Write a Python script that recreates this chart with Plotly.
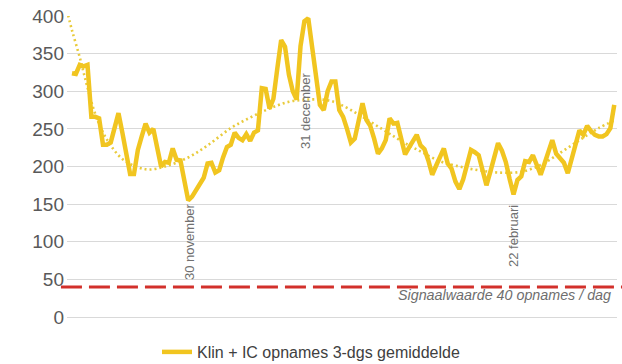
import plotly.graph_objects as go
import pandas as pd

# ---------------- data ----------------
START = "2020-10-31"
VALUES = [
    324, 323, 335, 333, 335, 266, 266, 264, 229, 229,
    232, 252, 271, 245, 217, 190, 190, 222, 240, 257,
    245, 250, 225, 200, 206, 205, 224, 209, 208, 180,
    155, 160, 168, 177, 185, 204, 205, 192, 195, 212,
    226, 229, 245, 238, 235, 243, 234, 245, 248, 304,
    303, 277, 290, 330, 368, 359, 322, 300, 289, 360,
    393, 397, 360, 319, 282, 275, 300, 313, 313, 275,
    266, 250, 232, 237, 262, 284, 262, 254, 237, 217,
    224, 235, 264, 257, 258, 237, 216, 225, 234, 242,
    228, 223, 208, 189, 201, 214, 224, 204, 197, 180,
    170, 183, 200, 222, 219, 215, 195, 175, 193, 215,
    231, 221, 206, 183, 163, 182, 187, 207, 206, 215,
    200, 189, 204, 222, 235, 217, 212, 205, 191, 210,
    232, 248, 242, 254, 247, 242, 240, 240, 243, 251,
    282,
]
DATES = pd.date_range(START, periods=len(VALUES), freq="D")

# dotted trend line (day offsets from START)
TREND_DAY = [-1, 0, 2, 4, 6, 9, 13, 17, 20, 24, 30, 35, 41, 46, 51, 56, 61,
             66, 69, 74, 80, 85, 90, 95, 100, 105, 110, 116, 121, 126, 131, 136, 140]
TREND_VALUES = [401, 381, 345, 305, 270, 236, 210, 199, 196, 200, 212, 228, 251,
                265, 277, 286, 289, 288, 283, 269, 250, 234, 220, 207, 200, 195,
                192, 193, 202, 218, 235, 251, 261]
TREND_DATES = pd.to_datetime(START) + pd.to_timedelta(TREND_DAY, unit="D")

THRESHOLD = 40
THRESHOLD_TEXT = "Signaalwaarde 40 opnames / dag"
SERIES_NAME = "Klin + IC opnames 3-dgs gemiddelde"

LABEL_TEXTS = ["30 november", "31 december", "22 februari"]
LABEL_DATES = ["2020-11-30", "2020-12-31", "2021-02-22"]
LABEL_Y = [100, 274, 107]

Y_TICKS = [0, 50, 100, 150, 200, 250, 300, 350, 400]

# ---------------- styles ----------------
FONT = "Liberation Sans, Arial, sans-serif"
YELLOW = "#F1C520"
TREND_YELLOW = "#E9CB3C"
RED = "#D2302B"
GRID = "#D9D9D9"
TEXT = "#595959"

fig = go.Figure()

fig.add_trace(go.Scatter(
    x=TREND_DATES, y=TREND_VALUES, mode="lines",
    line=dict(color=TREND_YELLOW, width=2.6, dash="2px,3px", shape="spline", smoothing=1.0),
    showlegend=False, hoverinfo="skip",
))
fig.add_trace(go.Scatter(
    x=DATES, y=VALUES, mode="lines", name=SERIES_NAME,
    line=dict(color=YELLOW, width=4.5),
))

# threshold line
fig.add_shape(type="line", xref="paper", yref="y",
              x0=-0.011, x1=1.02, y0=THRESHOLD, y1=THRESHOLD,
              line=dict(color=RED, width=3, dash="21px,7px"), layer="above")

fig.add_annotation(xref="paper", yref="y", x=0.993, y=THRESHOLD - 11,
                   text="<i>" + THRESHOLD_TEXT + "</i>", showarrow=False,
                   xanchor="right", yanchor="middle",
                   font=dict(family=FONT, size=14.3, color="#6E6E6E"))

shifts = [2, -2, 0]
for t, d, yv, s in zip(LABEL_TEXTS, LABEL_DATES, LABEL_Y, shifts):
    fig.add_annotation(x=d, y=yv, text=t, textangle=-90, showarrow=False,
                       xanchor="center", yanchor="middle", xshift=s,
                       font=dict(family=FONT, size=13, color="#707070"))

fig.update_layout(
    width=622, height=364,
    margin=dict(l=67, r=5, t=16, b=47),
    paper_bgcolor="white", plot_bgcolor="white",
    font=dict(family=FONT, color=TEXT),
    showlegend=True,
    legend=dict(orientation="h", xref="container", yref="container",
                x=0.5, xanchor="center", y=0.033, yanchor="middle",
                font=dict(family=FONT, size=16, color="#404040"),
                bgcolor="rgba(0,0,0,0)", itemwidth=30),
    xaxis=dict(type="date", range=["2020-10-29 17:00", "2021-03-20 17:00"],
               showgrid=False, showticklabels=False, ticks="", showline=False,
               zeroline=False),
    yaxis=dict(range=[0, 400], tickvals=Y_TICKS, showgrid=True, gridcolor=GRID,
               gridwidth=1, zeroline=True, zerolinecolor=GRID, zerolinewidth=1,
               showline=False, ticks="", ticklabelstandoff=2,
               tickfont=dict(family=FONT, size=19, color=TEXT)),
)

fig.write_html("out.html", config={"displayModeBar": False},
               post_script="document.body.style.margin='0';document.body.style.overflow='hidden';")
